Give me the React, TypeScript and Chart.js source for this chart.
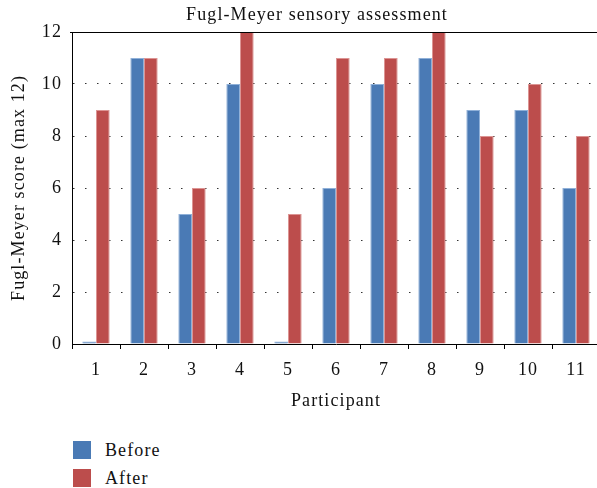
import React, { useEffect, useRef } from "react";
import { Chart, registerables } from "chart.js";

Chart.register(...registerables);

const participants = ["1", "2", "3", "4", "5", "6", "7", "8", "9", "10", "11"];
const beforeScores = [0.1, 11, 5, 10, 0.1, 6, 10, 11, 9, 9, 6];
const afterScores = [9, 11, 6, 12, 5, 11, 11, 12, 8, 10, 8];
const seriesNames = ["Before", "After"];
const seriesColors = ["#4a7ab5", "#bc4d4c"];
const seriesBorders = ["#8fb0d8", "#dc9493"];
const chartTitle = "Fugl-Meyer sensory assessment";
const yTitle = "Fugl-Meyer score (max 12)";
const xTitle = "Participant";

const FONT = "'Liberation Serif', 'DejaVu Serif', serif";
const SPACING = "1.1px";

const extrasPlugin = {
  id: "extras",
  beforeLayout(chart: any) {
    chart.ctx.letterSpacing = SPACING;
  },
  beforeDraw(chart: any) {
    chart.ctx.letterSpacing = SPACING;
  },
  afterDraw(chart: any) {
    const { ctx, chartArea } = chart;
    ctx.save();
    ctx.strokeStyle = "#000";
    ctx.lineWidth = 1;
    ctx.beginPath();
    ctx.moveTo(chartArea.left - 2, chartArea.top + 0.5);
    ctx.lineTo(chartArea.right, chartArea.top + 0.5);
    ctx.stroke();
    ctx.fillStyle = "#111";
    ctx.font = `18px ${FONT}`;
    ctx.letterSpacing = SPACING;
    ctx.textAlign = "center";
    ctx.textBaseline = "middle";
    ctx.fillText(chartTitle, 317, 15);
    ctx.restore();
  },
};

export default function App() {
  const ref = useRef<HTMLCanvasElement>(null);
  useEffect(() => {
    if (!ref.current) return;
    const chart = new Chart(ref.current, {
      type: "bar",
      data: {
        labels: participants,
        datasets: [
          {
            label: seriesNames[0],
            data: beforeScores,
            backgroundColor: seriesColors[0],
            borderColor: seriesBorders[0],
            borderWidth: 1,
            categoryPercentage: 0.57,
            barPercentage: 1.0,
          },
          {
            label: seriesNames[1],
            data: afterScores,
            backgroundColor: seriesColors[1],
            borderColor: seriesBorders[1],
            borderWidth: 1,
            categoryPercentage: 0.57,
            barPercentage: 1.0,
          },
        ],
      },
      options: {
        responsive: false,
        animation: false,
        devicePixelRatio: 1,
        layout: { padding: { left: 8, right: 10, top: 32, bottom: 4 } },
        plugins: {
          legend: { display: false },
          title: { display: false },
          tooltip: { enabled: false },
        },
        scales: {
          x: {
            afterFit: (s: any) => {
              s.height = 72;
            },
            grid: {
              display: true,
              drawOnChartArea: false,
              offset: true,
              tickLength: 5,
              tickColor: "#000",
            },
            border: { display: true, color: "#000", width: 1 },
            ticks: {
              color: "#111",
              font: { family: FONT, size: 18 },
              padding: 10,
            },
            title: {
              display: true,
              text: xTitle,
              color: "#111",
              font: { family: FONT, size: 18 },
              padding: { top: 4, bottom: 4 },
            },
          },
          y: {
            min: 0,
            max: 12,
            afterFit: (s: any) => {
              s.width = 64;
            },
            ticks: {
              stepSize: 2,
              color: "#111",
              font: { family: FONT, size: 18 },
              padding: 10,
            },
            grid: {
              drawTicks: false,
              lineWidth: 1,
              color: (c: any) =>
                c.tick && (c.tick.value === 0 || c.tick.value === 12) ? "rgba(0,0,0,0)" : "#333",
            },
            border: { display: true, color: "#000", width: 1, dash: [1.5, 10.5] },
            title: {
              display: true,
              text: yTitle,
              color: "#111",
              font: { family: FONT, size: 18 },
              padding: { top: 0, bottom: 4 },
            },
          },
        },
      },
      plugins: [extrasPlugin],
    });
    return () => chart.destroy();
  }, []);

  const legendItem = (i: number, top: number) => (
    <div
      key={i}
      style={{ position: "absolute", left: 73, top, height: 18, display: "flex", alignItems: "center" }}
    >
      <div style={{ width: 18, height: 18, background: seriesColors[i] }} />
      <span
        style={{
          marginLeft: 14,
          fontFamily: FONT,
          fontSize: 18,
          letterSpacing: SPACING,
          color: "#111",
          lineHeight: "18px",
        }}
      >
        {seriesNames[i]}
      </span>
    </div>
  );

  return (
    <div
      style={{
        position: "fixed",
        left: 0,
        top: 0,
        width: 597,
        height: 488,
        overflow: "hidden",
        background: "#fff",
      }}
    >
      <canvas ref={ref} width={610} height={420} style={{ display: "block" }} />
      {legendItem(0, 441)}
      {legendItem(1, 469)}
    </div>
  );
}
